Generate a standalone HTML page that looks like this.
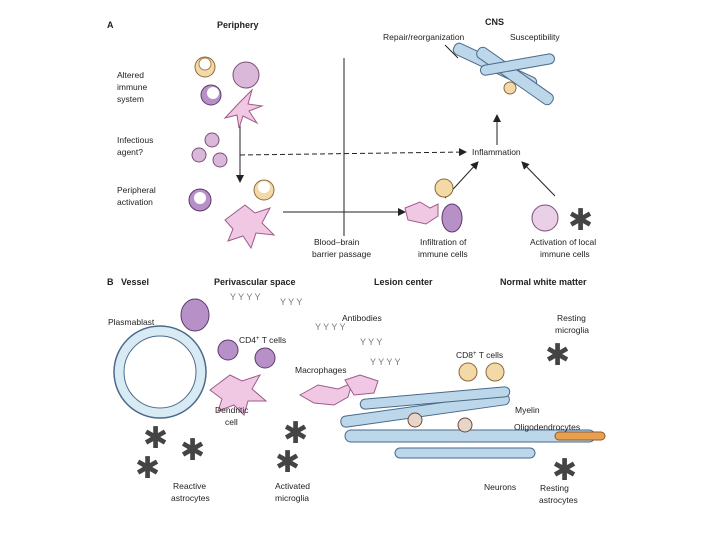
<!DOCTYPE html>
<html><head><meta charset="utf-8"><style>
html,body{margin:0;padding:0;background:#fff;width:720px;height:540px;overflow:hidden}
text{font-family:"Liberation Sans",sans-serif;font-size:8.5px;fill:#222}
.b{font-weight:bold;font-size:9px}
.st{font-size:30px;fill:#444}
.ab{font-size:9px;fill:#777}
</style></head><body>
<svg width="720" height="540" viewBox="0 0 720 540" xmlns="http://www.w3.org/2000/svg">
<defs><marker id="ar" markerWidth="8" markerHeight="8" refX="7" refY="4" orient="auto"><path d="M0,0L8,4L0,8z" fill="#222"/></marker></defs>
<text x="107" y="28" class="b">A</text>
<text x="217" y="28" class="b">Periphery</text>
<text x="485" y="25" class="b">CNS</text>
<text x="383" y="40">Repair/reorganization</text>
<text x="510" y="40">Susceptibility</text>
<text x="117" y="78">Altered</text><text x="117" y="90">immune</text><text x="117" y="102">system</text>
<text x="117" y="143">Infectious</text><text x="117" y="155">agent?</text>
<text x="117" y="193">Peripheral</text><text x="117" y="205">activation</text>
<text x="472" y="155">Inflammation</text>
<text x="314" y="245">Blood–brain</text><text x="312" y="257">barrier passage</text>
<text x="420" y="245">Infiltration of</text><text x="418" y="257">immune cells</text>
<text x="530" y="245">Activation of local</text><text x="540" y="257">immune cells</text>
<line x1="344" y1="58" x2="344" y2="236" stroke="#222" stroke-width="1"/>
<line x1="240" y1="155" x2="466" y2="152" stroke="#222" stroke-dasharray="5,3" marker-end="url(#ar)"/>
<line x1="240" y1="112" x2="240" y2="182" stroke="#222" marker-end="url(#ar)"/>
<line x1="283" y1="212" x2="405" y2="212" stroke="#222" marker-end="url(#ar)"/>
<line x1="445" y1="198" x2="478" y2="162" stroke="#222" marker-end="url(#ar)"/>
<line x1="555" y1="196" x2="522" y2="162" stroke="#222" marker-end="url(#ar)"/>
<line x1="497" y1="145" x2="497" y2="115" stroke="#222" marker-end="url(#ar)"/>
<line x1="445" y1="45" x2="458" y2="58" stroke="#222"/>
<circle cx="205" cy="67" r="10" fill="#f4d9a8" stroke="#8a6a3a"/><circle cx="205" cy="64" r="6" fill="#fff" stroke="#b08040"/>
<circle cx="246" cy="75" r="13" fill="#d9b8d9" stroke="#7a4d7a"/>
<circle cx="211" cy="95" r="10" fill="#b890c8" stroke="#5a3a6a"/><circle cx="213" cy="93" r="6" fill="#fff"/>
<path d="M240 102 l12 -12 l-4 14 l14 2 l-13 5 l8 12 l-14 -7 l-4 12 l-2 -13 l-12 3 z" fill="#f1c8e4" stroke="#a05a8a"/>
<circle cx="212" cy="140" r="7" fill="#d9b8d9" stroke="#7a4d7a"/><circle cx="199" cy="155" r="7" fill="#d9b8d9" stroke="#7a4d7a"/><circle cx="220" cy="160" r="7" fill="#d9b8d9" stroke="#7a4d7a"/>
<circle cx="200" cy="200" r="11" fill="#b890c8" stroke="#5a3a6a"/><circle cx="200" cy="198" r="6" fill="#fff"/>
<circle cx="264" cy="190" r="10" fill="#f4d9a8" stroke="#8a6a3a"/><circle cx="264" cy="187" r="6" fill="#fff"/>
<path d="M225 220 l20 -15 l10 8 l15 -5 l-8 15 l12 12 l-18 -2 l-5 15 l-8 -12 l-15 5 l5 -12 z" fill="#f1c8e4" stroke="#a05a8a"/>
<circle cx="444" cy="188" r="9" fill="#f4d9a8" stroke="#8a6a3a"/>
<path d="M405 208 l15 -6 l10 6 l8 -4 l0 12 l-12 8 l-18 -4 z" fill="#f1c8e4" stroke="#a05a8a"/>
<ellipse cx="452" cy="218" rx="10" ry="14" fill="#b890c8" stroke="#5a3a6a"/>
<circle cx="545" cy="218" r="13" fill="#e9d0e6" stroke="#7a4d7a"/>
<text x="568" y="230" class="st">✱</text>
<g fill="#bcd6ea" stroke="#4a6a8a">
<rect x="450" y="60" width="90" height="12" rx="5" transform="rotate(25 495 66)"/>
<rect x="470" y="70" width="90" height="12" rx="5" transform="rotate(35 515 76)"/>
<rect x="480" y="60" width="75" height="10" rx="5" transform="rotate(-10 515 65)"/>
</g>
<circle cx="510" cy="88" r="6" fill="#f4d9a8" stroke="#8a6a3a"/>
<text x="107" y="285" class="b">B</text>
<text x="121" y="285" class="b">Vessel</text>
<text x="214" y="285" class="b">Perivascular space</text>
<text x="374" y="285" class="b">Lesion center</text>
<text x="500" y="285" class="b">Normal white matter</text>
<text x="108" y="325">Plasmablast</text>
<text x="342" y="321">Antibodies</text>
<text x="239" y="343">CD4<tspan dy="-3" style="font-size:6px">+</tspan><tspan dy="3"> T cells</tspan></text>
<text x="557" y="321">Resting</text><text x="555" y="333">microglia</text>
<text x="456" y="358">CD8<tspan dy="-3" style="font-size:6px">+</tspan><tspan dy="3"> T cells</tspan></text>
<text x="295" y="373">Macrophages</text>
<text x="515" y="413">Myelin</text>
<circle cx="160" cy="372" r="46" fill="#d8eaf4" stroke="#4a6a8a" stroke-width="1.5"/>
<circle cx="160" cy="372" r="36" fill="#fff" stroke="#4a6a8a"/>
<ellipse cx="195" cy="315" rx="14" ry="16" fill="#b890c8" stroke="#5a3a6a"/>
<circle cx="228" cy="350" r="10" fill="#b890c8" stroke="#5a3a6a"/><circle cx="265" cy="358" r="10" fill="#b890c8" stroke="#5a3a6a"/>
<path d="M210 390 l20 -15 l12 6 l18 -6 l-8 14 l14 12 l-18 0 l-4 14 l-10 -10 l-16 6 l4 -12 z" fill="#f1c8e4" stroke="#a05a8a"/>
<path d="M300 395 l18 -10 l20 4 l14 -6 l-4 14 l-14 8 l-20 -2 z" fill="#f1c8e4" stroke="#a05a8a"/>
<path d="M345 380 l15 -5 l18 6 l-4 12 l-20 2 z" fill="#f1c8e4" stroke="#a05a8a"/>
<text x="230" y="300" class="ab">Y Y Y Y</text><text x="280" y="305" class="ab">Y Y Y</text><text x="315" y="330" class="ab">Y Y Y Y</text><text x="360" y="345" class="ab">Y Y Y</text><text x="370" y="365" class="ab">Y Y Y Y</text>
<circle cx="468" cy="372" r="9" fill="#f4d9a8" stroke="#8a6a3a"/><circle cx="495" cy="372" r="9" fill="#f4d9a8" stroke="#8a6a3a"/>
<g fill="#bcd6ea" stroke="#4a6a8a">
<rect x="340" y="405" width="170" height="11" rx="5" transform="rotate(-8 425 410)"/>
<rect x="360" y="393" width="150" height="10" rx="5" transform="rotate(-5 435 398)"/>
<rect x="345" y="430" width="250" height="12" rx="6"/>
<rect x="395" y="448" width="140" height="10" rx="5"/>
</g>
<rect x="555" y="432" width="50" height="8" rx="4" fill="#e8a050" stroke="#8a5a2a"/>
<circle cx="415" cy="420" r="7" fill="#e6d5c8" stroke="#6a4a3a"/><circle cx="465" cy="425" r="7" fill="#e6d5c8" stroke="#6a4a3a"/>
<text x="514" y="430" style="font-size:8.5px">Oligodendrocytes</text>
<text x="215" y="413">Dendritic</text><text x="225" y="425">cell</text>
<text x="173" y="489">Reactive</text><text x="171" y="501">astrocytes</text>
<text x="275" y="489">Activated</text><text x="275" y="501">microglia</text>
<text x="484" y="490">Neurons</text>
<text x="540" y="491">Resting</text><text x="539" y="503">astrocytes</text>
<text x="143" y="448" class="st">✱</text><text x="180" y="460" class="st">✱</text><text x="135" y="478" class="st">✱</text><text x="283" y="443" class="st">✱</text><text x="275" y="472" class="st">✱</text><text x="545" y="365" class="st">✱</text><text x="552" y="480" class="st">✱</text>
</svg>
</body></html>
